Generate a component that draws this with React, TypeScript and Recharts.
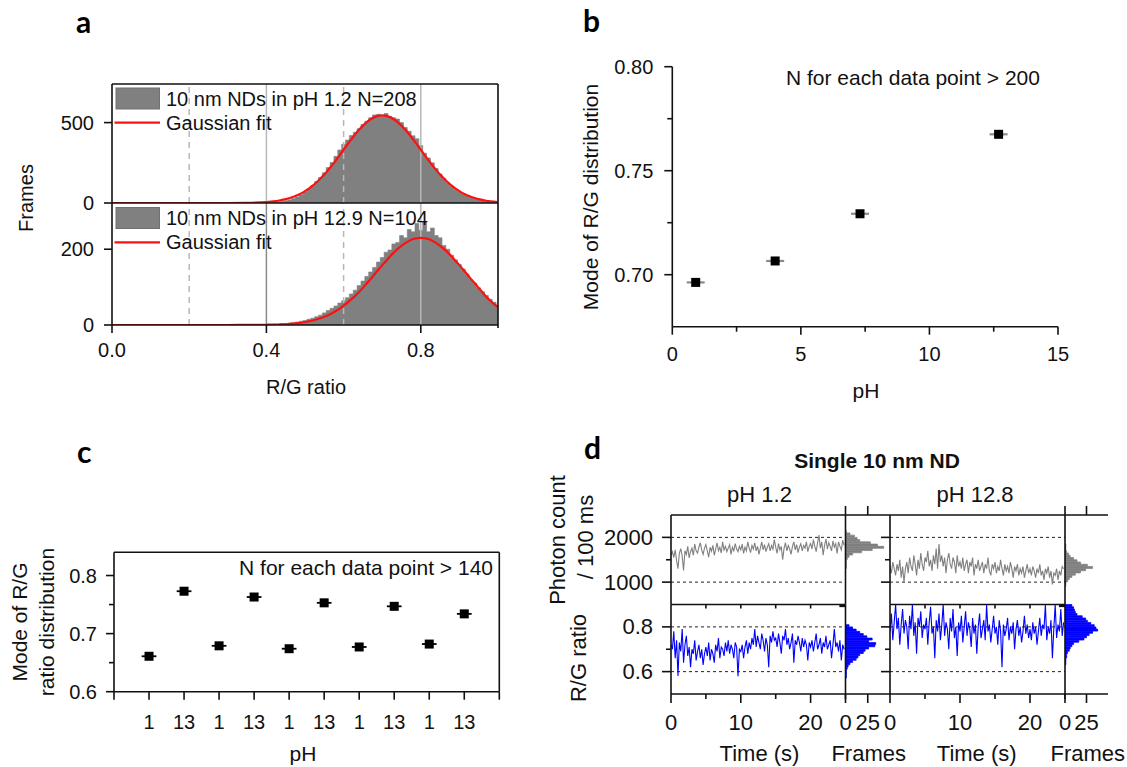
import React from 'react';
import {
  ComposedChart, LineChart, BarChart, ScatterChart, Area, Line, Bar, Scatter,
  XAxis, YAxis, ReferenceLine, ErrorBar,
} from 'recharts';

const PW = 1127;
const PH = 767;
const FONT = "'Liberation Sans', Arial, Helvetica, sans-serif";
const LETTER_FONT = "Lato, 'Open Sans', sans-serif";
const INK = '#111';

// ---------------- Panel a: R/G ratio histograms ----------------
const ratioBins = [0, 0.1, 0.2, 0.3, 0.35, ...Array.from({ length: 61 }, (_, i) => +(0.4 + i * 0.01).toFixed(2))];
const histPH12 = [0, 0, 0, 0, 0,
  2, 3, 5, 7, 10, 14, 20, 28, 38, 52,
  68, 88, 108, 133, 158, 188, 220, 252, 290, 330,
  365, 392, 420, 440, 462, 488, 508, 530, 548, 552,
  540, 556, 538, 530, 522, 500, 470, 446, 418, 400,
  358, 310, 280, 250, 214, 180, 152, 126, 104, 86,
  70, 56, 44, 34, 26, 20, 15, 11, 8, 6,
  4];
const fitPH12 = [0, 0, 0, 0, 1,
  6, 8, 11, 14, 19, 24, 31, 39, 48, 60,
  74, 90, 108, 129, 152, 177, 205, 234, 265, 298,
  331, 364, 396, 427, 455, 481, 503, 521, 534, 542,
  545, 542, 534, 521, 503, 481, 455, 427, 396, 364,
  331, 298, 265, 234, 205, 177, 152, 129, 108, 90,
  74, 60, 48, 39, 31, 24, 19, 14, 11, 8,
  6];
const histPH129 = [0, 0, 0, 0, 0,
  1, 1, 2, 2, 3, 4, 5, 6, 8, 10,
  12, 15, 18, 22, 26, 32, 38, 44, 50, 58,
  64, 72, 82, 92, 104, 116, 128, 140, 152, 166,
  178, 192, 198, 214, 218, 236, 230, 252, 246, 268,
  250, 272, 246, 256, 236, 230, 210, 200, 184, 172,
  160, 148, 134, 120, 110, 98, 88, 78, 68, 60,
  52];
const fitPH129 = [0, 0, 0, 0, 0.2,
  0.5, 1, 1, 1, 2, 2, 3, 4, 5, 6,
  8, 10, 12, 15, 18, 22, 26, 31, 37, 43,
  51, 59, 68, 77, 87, 98, 110, 121, 134, 146,
  158, 169, 181, 191, 201, 209, 216, 222, 227, 229,
  230, 229, 227, 222, 216, 209, 201, 191, 181, 169,
  158, 146, 134, 121, 110, 98, 86, 74, 64, 55,
  47];
const rowsA = ratioBins.map((x, i) => ({ x, hTop: histPH12[i], fTop: fitPH12[i], hBot: histPH129[i], fBot: fitPH129[i] }));

// ---------------- Panel b ----------------
const phB = [0.91, 4.0, 7.3, 12.69];
const modeB = [0.6963, 0.7066, 0.7293, 0.7675];
const phErrB = [0.35, 0.35, 0.35, 0.35];
const rowsB = phB.map((ph, i) => ({ ph, mode: modeB[i], err: phErrB[i] }));

// ---------------- Panel c ----------------
const pHCycle = ['1', '13', '1', '13', '1', '13', '1', '13', '1', '13'];
const modeC = [0.661, 0.773, 0.679, 0.763, 0.674, 0.753, 0.677, 0.747, 0.682, 0.734];
const errC = [0.21, 0.21, 0.21, 0.21, 0.21, 0.21, 0.21, 0.21, 0.21, 0.21];
const rowsC = pHCycle.map((_, i) => ({ pos: i + 1, mode: modeC[i], err: errC[i] }));

// ---------------- Panel d ----------------
const photonL = [
  1600, 1680, 1550, 1720, 1480, 1300, 1650, 1750, 1580, 1260, 1700, 1620, 1800, 1540, 1680, 1760, 1600, 1850, 1700, 1650, 1780, 1880, 1720, 1620, 1760,
  1840, 1700, 1560, 1780, 1690, 1820, 1600, 1740, 1880, 1700, 1780, 1650, 1900, 1720, 1800, 1680, 1760, 1840, 1620, 1780, 1700, 1860, 1740, 1680, 1800,
  1720, 1850, 1640, 1780, 1700, 1900, 1760, 1660, 1820, 1740, 1880, 1700, 1800, 1620, 1760, 1900, 1720, 1840, 1680, 1780, 1860, 1700, 1820, 1740, 1950,
  1780, 1640, 1860, 1720, 1800, 1500, 1760, 1880, 1700, 1820, 1740, 1620, 1800, 1900, 1720, 1840, 1660, 1780, 1860, 1700, 1820, 1760, 1900, 1680, 1800,
  1860, 1740, 1950, 1800, 1680, 1880, 2050, 1760, 1900, 1600, 1820, 1960, 1740, 1880, 1800, 1700, 1920, 1780, 1860, 1640, 1900, 1800, 1720, 1940, 1820,
];
const photonR = [
  1350, 1200, 1450, 1300, 1150, 1400, 1250, 1500, 1100, 1350, 1000, 1300, 1450, 1200, 1550, 1350, 1250, 1600, 1400, 1150, 1500, 1300, 1650, 1400, 1250,
  1550, 1450, 1700, 1350, 1500, 1250, 1600, 1400, 1750, 1300, 1850, 1450, 1600, 1350, 1550, 1200, 1500, 1650, 1400, 1300, 1550, 1450, 1200, 1600, 1350,
  1450, 1300, 1550, 1250, 1400, 1500, 1200, 1450, 1350, 1550, 1150, 1400, 1300, 1500, 1250, 1350, 1450, 1200, 1400, 1300, 1550, 1250, 1150, 1400, 1300,
  1450, 1200, 1350, 1250, 1500, 1300, 1150, 1400, 1250, 1350, 1200, 1450, 1300, 1100, 1350, 1250, 1400, 1150, 1300, 1200, 1350, 1100, 1250, 1400, 1200,
  1300, 1150, 1350, 1250, 1100, 1300, 1200, 1400, 1150, 1250, 1050, 1300, 1200, 1350, 1100, 1250, 950, 1200, 1150, 1300, 1050, 1250, 1150, 1350, 1300,
];
const ratioL = [
  0.72, 0.70, 0.78, 0.66, 0.74, 0.58, 0.73, 0.69, 0.79, 0.64, 0.72, 0.76, 0.67, 0.71, 0.62, 0.70, 0.68, 0.74, 0.65, 0.69, 0.72, 0.66, 0.70, 0.63, 0.68,
  0.71, 0.67, 0.73, 0.65, 0.70, 0.68, 0.64, 0.72, 0.69, 0.75, 0.66, 0.71, 0.70, 0.67, 0.73, 0.69, 0.74, 0.68, 0.72, 0.70, 0.66, 0.73, 0.71, 0.58, 0.70,
  0.69, 0.72, 0.66, 0.71, 0.74, 0.68, 0.73, 0.70, 0.75, 0.72, 0.79, 0.71, 0.76, 0.73, 0.70, 0.77, 0.74, 0.69, 0.75, 0.72, 0.62, 0.76, 0.73, 0.78, 0.74,
  0.75, 0.71, 0.77, 0.73, 0.68, 0.76, 0.74, 0.79, 0.72, 0.75, 0.70, 0.73, 0.77, 0.64, 0.74, 0.72, 0.76, 0.73, 0.69, 0.75, 0.71, 0.74, 0.72, 0.65, 0.73,
  0.71, 0.74, 0.69, 0.73, 0.77, 0.70, 0.72, 0.75, 0.68, 0.73, 0.71, 0.76, 0.70, 0.72, 0.74, 0.66, 0.72, 0.79, 0.71, 0.73, 0.69, 0.74, 0.65, 0.72, 0.70,
];
const ratioR = [
  0.78, 0.86, 0.74, 0.82, 0.90, 0.79, 0.84, 0.72, 0.81, 0.88, 0.77, 0.83, 0.80, 0.70, 0.85, 0.79, 0.90, 0.76, 0.82, 0.68, 0.84, 0.80, 0.87, 0.75, 0.81,
  0.79, 0.84, 0.72, 0.82, 0.89, 0.77, 0.80, 0.66, 0.83, 0.78, 0.86, 0.74, 0.81, 0.90, 0.76, 0.82, 0.79, 0.70, 0.84, 0.78, 0.88, 0.75, 0.80, 0.67, 0.82,
  0.78, 0.85, 0.73, 0.80, 0.87, 0.76, 0.82, 0.79, 0.71, 0.84, 0.77, 0.81, 0.68, 0.80, 0.86, 0.75, 0.79, 0.83, 0.74, 0.90, 0.78, 0.81, 0.73, 0.79, 0.85,
  0.77, 0.80, 0.72, 0.83, 0.78, 0.62, 0.81, 0.76, 0.79, 0.84, 0.74, 0.80, 0.77, 0.82, 0.70, 0.79, 0.83, 0.76, 0.80, 0.73, 0.78, 0.85, 0.77, 0.81, 0.75,
  0.79, 0.74, 0.82, 0.77, 0.80, 0.72, 0.78, 0.84, 0.76, 0.81, 0.79, 0.90, 0.74, 0.80, 0.77, 0.83, 0.66, 0.79, 0.90, 0.75, 0.81, 0.78, 0.88, 0.76, 0.82,
];
const photonBins = Array.from({ length: 40 }, (_, i) => 500 + i * 50);
const rgBins = Array.from({ length: 40 }, (_, i) => +(0.5 + i * 0.01).toFixed(2));
const histPhotonL = [0, 0, 0, 0, 0, 0, 0, 0, 0, 0, 0, 0, 0, 0, 0, 0,
  1, 1, 1, 1, 2, 4, 8, 18, 30, 43, 36, 28, 16, 13, 10, 5, 1,
  0, 0, 0, 0, 0, 0, 0];
const histPhotonR = [0, 0, 0, 0, 0, 0, 0, 0,
  1, 1, 3, 5, 8, 12, 18, 24, 32, 26, 18, 14, 10, 6, 4, 2, 1, 1, 1,
  0, 0, 0, 0, 0, 0, 0, 0, 0, 0, 0, 0, 0];
const histRatioL = [0, 0, 0, 0, 0, 0, 0,
  1, 1, 1, 1, 2, 3, 5, 8, 12, 14, 16, 20, 22, 26, 33, 34, 26, 30, 24, 20, 16, 12, 8, 4,
  0, 0, 0, 0, 0, 0, 0, 0, 0];
const histRatioR = [0, 0, 0, 0, 0, 0, 0, 0, 0, 0, 0, 0, 0,
  1, 1, 1, 2, 2, 3, 5, 6, 8, 10, 16, 22, 25, 28, 32, 38, 36, 34, 30, 26, 24, 20, 14, 12, 11, 10, 8];

const series = (vals: number[]) => vals.map((v, i) => ({ t: +(i * 0.2).toFixed(1), v }));
const hist = (bins: number[], vals: number[]) => bins.map((b, i) => ({ bin: b, n: vals[i] }));

// ---------------- helpers ----------------
type Side = 'left' | 'right' | 'top' | 'bottom';
interface TickCfg {
  side: Side; major: number[]; ml?: number; nl?: number; inward?: boolean;
  label?: (v: number) => string; gap?: number; fs?: number;
}
function mkTick(c: TickCfg) {
  return (p: any) => {
    const x = Number(p.x);
    const y = Number(p.y);
    const v = Number(p.payload?.value);
    const isMaj = c.major.some((m) => Math.abs(m - v) < 1e-6);
    const len = isMaj ? (c.ml ?? 8) : (c.nl ?? 4);
    const s = c.inward ? -1 : 1;
    const g = c.gap ?? 18;
    let x2 = x, y2 = y, tx = x, ty = y;
    let anchor: 'start' | 'middle' | 'end' = 'middle';
    if (c.side === 'left') { x2 = x - s * len; tx = x - g; anchor = 'end'; }
    if (c.side === 'right') { x2 = x + s * len; tx = x + g; anchor = 'start'; }
    if (c.side === 'bottom') { y2 = y + s * len; ty = y + g; }
    if (c.side === 'top') { y2 = y - s * len; ty = y - g; }
    const txt = isMaj && c.label ? c.label(v) : '';
    return (
      <g>
        <line x1={x} y1={y} x2={x2} y2={y2} stroke={INK} strokeWidth={1.6} />
        {txt !== '' && (
          <text x={tx} y={ty} textAnchor={anchor} dominantBaseline="central"
            fontSize={c.fs ?? 20} fill={INK} fontFamily={FONT}>{txt}</text>
        )}
      </g>
    );
  };
}
const ax = {
  tickSize: 0, tickMargin: 0, tickLine: false, interval: 0 as const,
  axisLine: { stroke: INK, strokeWidth: 1.6 }, allowDataOverflow: true,
};
const Layer = ({ children }: { children: React.ReactNode }) => (
  <div style={{ position: 'absolute', left: 0, top: 0, width: PW, height: PH }}>{children}</div>
);
const border = { stroke: INK, strokeWidth: 1.6, ifOverflow: 'visible' as const };
const dashed = { stroke: '#222', strokeWidth: 1, strokeDasharray: '3 3', ifOverflow: 'visible' as const };
const grid = { stroke: '#b8b8b8', strokeWidth: 1.5, ifOverflow: 'visible' as const };
const sq = (size: number) => (p: any) => (
  <rect x={p.cx - size / 2} y={p.cy - size / 2} width={size} height={size} fill="#000" />
);

// ---------------- panel a ----------------
function PanelA() {
  const common = (yMax: number, yTicks: number[], hKey: string, fKey: string, showX: boolean, top: number, bottom: number) => (
    <Layer>
      <ComposedChart width={PW} height={PH} data={rowsA}
        margin={{ left: 111, top, right: PW - 498, bottom: showX ? PH - bottom - 1 : PH - bottom }}>
        <XAxis {...ax} type="number" dataKey="x" domain={[0, 1]} ticks={[0, 0.4, 0.8, 1]} hide={!showX} height={1}
          tick={mkTick({ side: 'bottom', major: [0, 0.4, 0.8], ml: 8, nl: 3, gap: 25, label: (v) => v.toFixed(1) })} />
        <YAxis {...ax} type="number" domain={[0, yMax]} ticks={yTicks} width={1}
          tick={mkTick({ side: 'left', major: yTicks, ml: 8, gap: 18, label: (v) => String(v) })} />
        <ReferenceLine x={0.2} {...grid} strokeDasharray="6 5" />
        <ReferenceLine x={0.4} {...grid} stroke={showX ? '#8a8a8a' : '#b8b8b8'} />
        <ReferenceLine x={0.6} {...grid} strokeDasharray="6 5" />
        <ReferenceLine x={0.8} {...grid} />
        <Area type="step" dataKey={hKey} fill="#808080" fillOpacity={1} stroke="#808080" strokeWidth={0.6} isAnimationActive={false} />
        <Line type="monotone" dataKey={fKey} stroke="#ff1010" strokeWidth={2.2} dot={false} isAnimationActive={false} />
        <ReferenceLine y={yMax} {...border} />
        <ReferenceLine x={1} {...border} />
      </ComposedChart>
    </Layer>
  );
  return (
    <>
      {common(740, [0, 500], 'hTop', 'fTop', false, 84, 203)}
      {common(322, [0, 200], 'hBot', 'fBot', true, 203, 325)}
    </>
  );
}

// ---------------- panel b ----------------
function PanelB() {
  return (
    <Layer>
      <ScatterChart width={PW} height={PH} margin={{ left: 671.3, top: 66.7, right: PW - 1058, bottom: PH - 326.7 - 1 }}>
        <XAxis {...ax} type="number" dataKey="ph" domain={[0, 15]} ticks={[0, 2.5, 5, 7.5, 10, 12.5, 15]} height={1}
          tick={mkTick({ side: 'bottom', major: [0, 5, 10, 15], ml: 8, nl: 5, gap: 27, label: (v) => String(v) })} />
        <YAxis {...ax} type="number" dataKey="mode" domain={[0.675, 0.8]} ticks={[0.7, 0.725, 0.75, 0.775, 0.8]} width={1}
          tick={mkTick({ side: 'left', major: [0.7, 0.75, 0.8], ml: 8, nl: 5, gap: 19, label: (v) => v.toFixed(2) })} />
        <Scatter data={rowsB} shape={sq(9)} isAnimationActive={false}>
          <ErrorBar dataKey="err" direction="x" width={0} stroke="#8a8a8a" strokeWidth={2.2} />
        </Scatter>
      </ScatterChart>
    </Layer>
  );
}

// ---------------- panel c ----------------
function PanelC() {
  return (
    <Layer>
      <ScatterChart width={PW} height={PH} margin={{ left: 113, top: 552.3, right: PW - 499.3, bottom: PH - 691.7 - 1 }}>
        <XAxis {...ax} type="number" dataKey="pos" domain={[0, 11]} ticks={[0, 1, 2, 3, 4, 5, 6, 7, 8, 9, 10, 11]} height={1}
          tick={mkTick({ side: 'bottom', major: [0, 1, 2, 3, 4, 5, 6, 7, 8, 9, 10, 11], ml: 8, gap: 30,
            label: (v) => (v >= 1 && v <= 10 ? pHCycle[v - 1] : '') })} />
        <YAxis {...ax} type="number" dataKey="mode" domain={[0.6, 0.84]} ticks={[0.6, 0.65, 0.7, 0.75, 0.8]} width={1}
          tick={mkTick({ side: 'left', major: [0.6, 0.7, 0.8], ml: 8, nl: 5, gap: 17, label: (v) => v.toFixed(1) })} />
        <ReferenceLine y={0.84} {...border} />
        <ReferenceLine x={11} {...border} />
        <Scatter data={rowsC} shape={sq(9)} isAnimationActive={false}>
          <ErrorBar dataKey="err" direction="x" width={0} stroke="#000" strokeWidth={1.8} />
        </Scatter>
      </ScatterChart>
    </Layer>
  );
}

// ---------------- panel d ----------------
const TOP_Y0 = 515, MID_Y = 604.5, BOT_Y1 = 694;
function TimeChart(props: { x0: number; x1: number; row: 'top' | 'bot'; data: { t: number; v: number }[]; color: string; labels: boolean }) {
  const { x0, x1, row, data, color, labels } = props;
  const isTop = row === 'top';
  const y0 = isTop ? TOP_Y0 : MID_Y;
  const y1 = isTop ? MID_Y : BOT_Y1;
  const domain = isTop ? [500, 2500] : [0.5, 0.9];
  const yt = isTop ? [1000, 1500, 2000] : [0.6, 0.7, 0.8];
  const ymaj = isTop ? [1000, 2000] : [0.6, 0.8];
  return (
    <Layer>
      <LineChart width={PW} height={PH} data={data} margin={{ left: x0 - 1, top: y0, right: PW - x1, bottom: PH - y1 - 1 }}>
        <XAxis {...ax} type="number" dataKey="t" domain={[0, 25]} height={1}
          ticks={isTop ? [5, 10, 15, 20] : [0, 5, 10, 15, 20, 25]}
          tick={isTop
            ? mkTick({ side: 'bottom', major: [], nl: 4 })
            : mkTick({ side: 'bottom', major: [0, 10, 20], ml: 9, nl: 5, gap: 28, fs: 22, label: (v) => String(v) })} />
        <YAxis {...ax} type="number" domain={domain} ticks={yt} width={1}
          tick={mkTick({ side: 'left', major: ymaj, ml: 9, nl: 5, gap: 18, fs: 22,
            label: labels ? (v) => (isTop ? String(v) : v.toFixed(1)) : undefined })} />
        <ReferenceLine y={ymaj[1]} {...dashed} />
        <ReferenceLine y={ymaj[0]} {...dashed} />
        {isTop && <ReferenceLine y={2500} {...border} />}
        <Line type="linear" dataKey="v" stroke={color} strokeWidth={1.1} dot={false} isAnimationActive={false} />
      </LineChart>
    </Layer>
  );
}
function HistChart(props: { x0: number; x1: number; row: 'top' | 'bot'; data: { bin: number; n: number }[]; color: string }) {
  const { x0, x1, row, data, color } = props;
  const isTop = row === 'top';
  const domain = isTop ? [500, 2500] : [0.5, 0.9];
  const yt = isTop ? [1000, 1500, 2000] : [0.6, 0.7, 0.8];
  const ymaj = isTop ? [1000, 2000] : [0.6, 0.8];
  const margin = isTop
    ? { left: x0 - 1, top: TOP_Y0 - 1, right: PW - x1, bottom: PH - MID_Y }
    : { left: x0 - 1, top: MID_Y, right: PW - x1, bottom: PH - BOT_Y1 - 1 };
  return (
    <Layer>
      <BarChart width={PW} height={PH} data={data} layout="vertical" barCategoryGap={0} barGap={0} margin={margin}>
        <XAxis {...ax} type="number" domain={[0, 50]} ticks={[0, 25]} height={1} orientation={isTop ? 'top' : 'bottom'}
          tick={isTop
            ? mkTick({ side: 'top', major: [0, 25], ml: 9 })
            : mkTick({ side: 'bottom', major: [0, 25], ml: 9, gap: 28, fs: 22, label: (v) => String(v) })} />
        <YAxis {...ax} yAxisId="num" type="number" domain={domain} ticks={yt} width={1}
          tick={mkTick({ side: 'left', major: ymaj, ml: 6, nl: 4 })} />
        <YAxis yAxisId="cat" type="category" dataKey="bin" hide reversed width={0} />
        <Bar yAxisId="cat" dataKey="n" fill={color} stroke={color} strokeWidth={0.7} isAnimationActive={false} />
      </BarChart>
    </Layer>
  );
}
function PanelD() {
  const gray = '#808080';
  const blue = '#0000ff';
  return (
    <>
      <TimeChart x0={671} x1={845.5} row="top" data={series(photonL)} color={gray} labels />
      <TimeChart x0={671} x1={845.5} row="bot" data={series(ratioL)} color={blue} labels />
      <HistChart x0={845.5} x1={890} row="top" data={hist(photonBins, histPhotonL)} color={gray} />
      <HistChart x0={845.5} x1={890} row="bot" data={hist(rgBins, histRatioL)} color={blue} />
      <TimeChart x0={890} x1={1065} row="top" data={series(photonR)} color={gray} labels={false} />
      <TimeChart x0={890} x1={1065} row="bot" data={series(ratioR)} color={blue} labels={false} />
      <HistChart x0={1065} x1={1108} row="top" data={hist(photonBins, histPhotonR)} color={gray} />
      <HistChart x0={1065} x1={1108} row="bot" data={hist(rgBins, histRatioR)} color={blue} />
    </>
  );
}

// ---------------- annotations ----------------
const T = (p: any) => <text fontFamily={FONT} fill={INK} dominantBaseline="central" {...p} />;
const VT = ({ x, y, children, fs = 20 }: { x: number; y: number; children: React.ReactNode; fs?: number }) => (
  <text transform={`translate(${x},${y}) rotate(-90)`} textAnchor="middle" dominantBaseline="central"
    fontFamily={FONT} fill={INK} fontSize={fs}>{children}</text>
);
function Annotations() {
  const L = (p: any) => <text fontFamily={LETTER_FONT} fontWeight={700} fontSize={30} fill="#000" {...p} />;
  return (
    <svg width={PW} height={PH} style={{ position: 'absolute', left: 0, top: 0, pointerEvents: 'none' }}>
      <L x={76} y={33}>a</L>
      <L x={583} y={32}>b</L>
      <L x={77} y={463}>c</L>
      <L x={584} y={459}>d</L>

      {/* panel a legends */}
      <rect x={116} y={88} width={43.5} height={21} fill="#808080" stroke="#707070" />
      <T x={166} y={98.5} fontSize={20}>10 nm NDs in pH 1.2 N=208</T>
      <line x1={114.5} y1={122.7} x2={160} y2={122.7} stroke="#ff1010" strokeWidth={2.2} />
      <T x={166} y={122.7} fontSize={20}>Gaussian fit</T>
      <rect x={116} y={207.5} width={43.5} height={21} fill="#808080" stroke="#707070" />
      <T x={166} y={218} fontSize={20}>10 nm NDs in pH 12.9 N=104</T>
      <line x1={114.5} y1={242.3} x2={160} y2={242.3} stroke="#ff1010" strokeWidth={2.2} />
      <T x={166} y={242.3} fontSize={20}>Gaussian fit</T>
      <VT x={26} y={198}>Frames</VT>
      <T x={306} y={387} fontSize={20} textAnchor="middle">R/G ratio</T>

      {/* panel b */}
      <VT x={590} y={197} fs={21}>Mode of R/G distribution</VT>
      <T x={786} y={77} fontSize={21}>N for each data point &gt; 200</T>
      <T x={866} y={390} fontSize={21} textAnchor="middle">pH</T>

      {/* panel c */}
      <VT x={19} y={622} fs={21}>Mode of R/G</VT>
      <VT x={46.5} y={622} fs={21}>ratio distribution</VT>
      <T x={493} y={567} fontSize={21} textAnchor="end">N for each data point &gt; 140</T>
      <T x={303} y={753} fontSize={21} textAnchor="middle">pH</T>

      {/* panel d */}
      <T x={877} y={460} fontSize={21} fontWeight={700} textAnchor="middle">Single 10 nm ND</T>
      <T x={759.5} y={494} fontSize={22} textAnchor="middle">pH 1.2</T>
      <T x={975} y={494} fontSize={22} textAnchor="middle">pH 12.8</T>
      <VT x={557} y={540} fs={22}>Photon count</VT>
      <VT x={585} y={537} fs={22}>/ 100 ms</VT>
      <VT x={578} y={658} fs={22}>R/G ratio</VT>
      <T x={759.5} y={753} fontSize={22} textAnchor="middle">Time (s)</T>
      <T x={868.7} y={753} fontSize={22} textAnchor="middle">Frames</T>
      <T x={976.7} y={753} fontSize={22} textAnchor="middle">Time (s)</T>
      <T x={1087.8} y={753} fontSize={22} textAnchor="middle">Frames</T>
    </svg>
  );
}

export default function App() {
  return (
    <div style={{ position: 'absolute', left: 0, top: 0, width: PW, height: PH, background: '#fff', overflow: 'hidden', fontFamily: FONT }}>
      <PanelA />
      <PanelB />
      <PanelC />
      <PanelD />
      <Annotations />
    </div>
  );
}
